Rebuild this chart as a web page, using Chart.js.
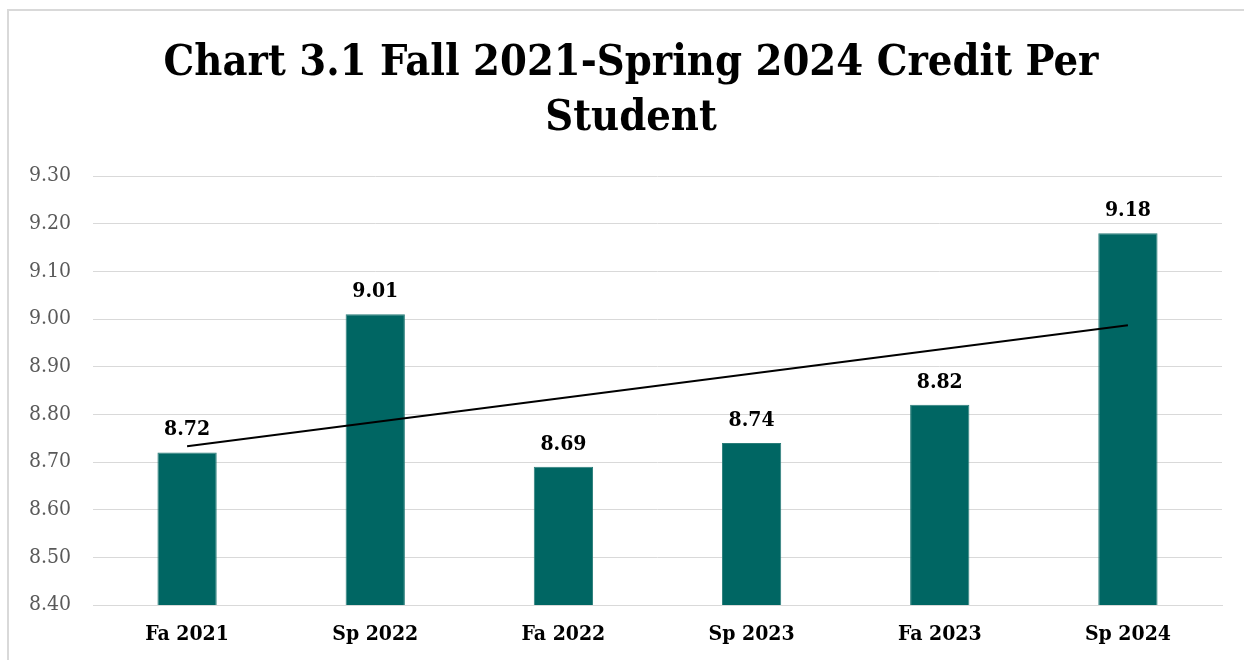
<!DOCTYPE html>
<html>
<head>
<meta charset="utf-8">
<title>Chart 3.1</title>
<script src="https://cdn.jsdelivr.net/npm/chart.js@4/dist/chart.umd.min.js"></script>
<style>
    body { margin: 0; background: #ffffff; overflow: hidden; }
    #frame {
        position: absolute; left: 7px; top: 9px; width: 1400px; height: 800px;
        border: 2px solid #d9d9d9;
    }
    #wrap { position: absolute; left: 0; top: 0; width: 1244px; height: 660px; }
</style>
</head>
<body>
<div id="frame"></div>
<div id="wrap"><canvas id="creditChart"></canvas></div>
<script>
const terms = ['Fa 2021', 'Sp 2022', 'Fa 2022', 'Sp 2023', 'Fa 2023', 'Sp 2024'];
const creditPerStudent = [8.72, 9.01, 8.69, 8.74, 8.82, 9.18];
// linear trendline: value at first and last term
const trendEnds = [8.733, 8.987];
const yTicks = [8.40, 8.50, 8.60, 8.70, 8.80, 8.90, 9.00, 9.10, 9.20, 9.30];
const titleLines = ['Chart 3.1 Fall 2021-Spring 2024 Credit Per', 'Student'];

const serif = "'DejaVu Serif Condensed', 'DejaVu Serif', serif";

let trendData = terms.map(() => null);
trendData[0] = trendEnds[0];
trendData[terms.length - 1] = trendEnds[1];

// the title sits a little right of the chart centre, so draw it by hand
const chartTitle = {
    id: 'chartTitle',
    afterDraw(chart) {
        const ctx = chart.ctx;
        ctx.save();
        ctx.font = "bold 43px " + serif;
        ctx.fillStyle = '#000000';
        ctx.textAlign = 'center';
        ctx.textBaseline = 'alphabetic';
        titleLines.forEach((line, i) => {
            ctx.fillText(line, 631, 75 + i * 55);
        });
        ctx.restore();
    }
};

const barLabels = {
    id: 'barLabels',
    afterDatasetsDraw(chart) {
        const ctx = chart.ctx;
        const meta = chart.getDatasetMeta(0);
        ctx.save();
        ctx.font = "bold 21px " + serif;
        ctx.fillStyle = '#000000';
        ctx.textAlign = 'center';
        ctx.textBaseline = 'alphabetic';
        meta.data.forEach((bar, i) => {
            ctx.fillText(creditPerStudent[i].toFixed(2), bar.x, bar.y - 17);
        });
        ctx.restore();
    }
};

new Chart(document.getElementById('creditChart'), {
    type: 'bar',
    data: {
        labels: terms,
        datasets: [{
            label: 'Credit Per Student',
            data: creditPerStudent,
            backgroundColor: '#006663',
            borderColor: '#2a7d79',
            borderWidth: 1,
            barPercentage: 0.63,
            categoryPercentage: 0.5,
            order: 2
        }, {
            type: 'line',
            label: 'Linear trend',
            data: trendData,
            spanGaps: true,
            borderColor: '#000000',
            borderWidth: 2,
            pointRadius: 0,
            fill: false,
            order: 1
        }]
    },
    options: {
        responsive: true,
        maintainAspectRatio: false,
        animation: false,
        layout: { padding: { left: 0, right: 22, top: 176, bottom: 0 } },
        plugins: {
            legend: { display: false },
            tooltip: { enabled: false },
            title: { display: false }
        },
        scales: {
            x: {
                afterFit(scale) {
                    scale.height = 55;
                },
                grid: { display: false, drawTicks: false },
                border: { display: true, color: '#d9d9d9', width: 1 },
                ticks: {
                    color: '#000000',
                    padding: 17,
                    font: { family: serif, size: 21, weight: 'bold' }
                }
            },
            y: {
                min: 8.40,
                max: 9.30,
                afterBuildTicks(scale) {
                    scale.ticks = yTicks.map(v => ({ value: v }));
                },
                afterFit(scale) {
                    scale.width = 93;
                },
                grid: { color: '#d9d9d9', lineWidth: 1, drawTicks: false },
                border: { display: false },
                ticks: {
                    color: '#595959',
                    padding: 22,
                    font: { family: serif, size: 21 },
                    callback: value => Number(value).toFixed(2)
                }
            }
        }
    },
    plugins: [barLabels, chartTitle]
});
</script>
</body>
</html>
